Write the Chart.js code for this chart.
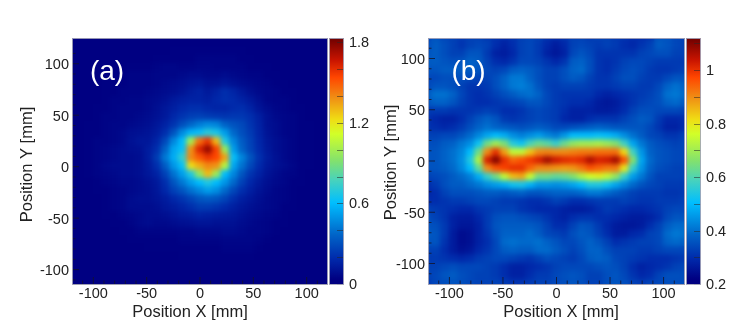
<!DOCTYPE html>
<html lang="en">
<head>
<meta charset="UTF-8">
<title>Position maps</title>
<script src="https://cdn.jsdelivr.net/npm/chart.js"></script>
<style>
  html, body { margin: 0; background: #fff; }
  canvas { position: absolute; }
</style>
</head>
<body>
<canvas id="mapA" style="left:0;top:0"></canvas>
<canvas id="barA" style="left:329px;top:0"></canvas>
<canvas id="mapB" style="left:350px;top:0"></canvas>
<canvas id="barB" style="left:686px;top:0"></canvas>
<script>
const tickLabels = [-100, -50, 0, 50, 100];
const minorTicks = [-110, -90, -80, -70, -60, -40, -30, -20, -10, 10, 20, 30, 40, 60, 70, 80, 90, 110];
const colTicksA = [0, 0.6, 1.2, 1.8];
const colMinorA = [0.2, 0.4, 0.8, 1, 1.4, 1.6];
const colTicksB = [0.2, 0.4, 0.6, 0.8, 1];
const colMinorB = [0.3, 0.5, 0.7, 0.9, 1.1];
const stops = [[0, '#000080'], [0.02, '#000082'], [0.1, '#0028aa'], [0.2, '#0064c8'], [0.33, '#00beff'], [0.42, '#46d2be'],
  [0.5, '#82e16e'], [0.61, '#d2ff28'], [0.67, '#f0dc14'], [0.76, '#f08c14'], [0.84, '#ff4600'], [0.91, '#c81400'], [1, '#6e0000']];

const xCells = [-120,-112,-104,-96,-88,-80,-72,-64,-56,-48,-40,-32,-24,-16,-8,0,8,16,24,32,40,48,56,64,72,80,88,96,104,112,120];
const yCellsA = [128,120,112,104,96,88,80,72,64,56,48,40,32,24,16,8,0,-8,-16,-24,-32,-40,-48,-56,-64,-72,-80,-88,-96,-104,-112];
const yCellsB = [120,112,104,96,88,80,72,64,56,48,40,32,24,16,8,0,-8,-16,-24,-32,-40,-48,-56,-64,-72,-80,-88,-96,-104,-112,-120];

const valuesA = [
[.03,.03,.03,.03,.03,.03,.03,.03,.03,.03,.03,.03,.03,.03,.03,.03,.03,.03,.03,.03,.03,.03,.03,.03,.03,.03,.03,.03,.03,.03,.03],
[.03,.03,.03,.03,.03,.03,.03,.03,.03,.03,.03,.03,.03,.03,.03,.03,.03,.03,.03,.03,.03,.03,.03,.03,.03,.03,.03,.03,.03,.03,.03],
[.03,.03,.03,.03,.03,.03,.03,.03,.03,.03,.03,.03,.04,.04,.04,.04,.04,.04,.04,.04,.04,.03,.03,.03,.03,.03,.03,.03,.03,.03,.03],
[.03,.03,.03,.03,.03,.03,.03,.03,.03,.03,.04,.04,.04,.04,.04,.05,.05,.05,.05,.05,.04,.04,.03,.03,.03,.03,.03,.03,.03,.03,.03],
[.03,.03,.03,.03,.03,.03,.03,.04,.04,.04,.05,.06,.06,.05,.05,.06,.06,.05,.05,.05,.05,.04,.04,.04,.03,.03,.03,.03,.03,.03,.03],
[.03,.03,.03,.03,.03,.03,.04,.05,.05,.05,.06,.06,.06,.07,.08,.08,.07,.07,.08,.07,.06,.05,.05,.04,.04,.03,.03,.03,.03,.03,.03],
[.03,.03,.03,.03,.04,.04,.04,.05,.05,.05,.06,.07,.08,.09,.11,.12,.10,.10,.12,.10,.08,.07,.06,.05,.04,.04,.03,.03,.03,.03,.03],
[.03,.03,.03,.03,.04,.04,.05,.05,.05,.06,.07,.08,.09,.11,.14,.16,.13,.16,.20,.17,.13,.09,.07,.06,.05,.04,.04,.03,.03,.03,.03],
[.03,.03,.03,.03,.04,.05,.05,.06,.06,.07,.08,.10,.13,.15,.16,.16,.15,.18,.20,.19,.16,.13,.09,.06,.05,.05,.04,.03,.03,.03,.03],
[.03,.03,.03,.04,.04,.05,.06,.06,.06,.07,.09,.12,.15,.18,.20,.20,.18,.17,.17,.19,.20,.16,.11,.08,.06,.05,.04,.04,.03,.03,.03],
[.03,.03,.03,.04,.05,.05,.06,.06,.07,.08,.10,.13,.18,.22,.25,.26,.24,.23,.22,.23,.23,.20,.15,.10,.07,.06,.05,.04,.03,.03,.03],
[.03,.03,.04,.04,.05,.06,.06,.07,.08,.09,.12,.16,.22,.30,.37,.43,.47,.45,.36,.31,.28,.22,.16,.10,.08,.06,.05,.04,.04,.03,.03],
[.03,.03,.04,.04,.05,.06,.07,.09,.10,.11,.14,.20,.32,.47,.58,.62,.70,.66,.52,.38,.30,.24,.17,.11,.08,.06,.05,.04,.04,.03,.03],
[.03,.03,.04,.05,.05,.06,.07,.10,.12,.12,.17,.28,.46,.60,1.00,1.45,1.58,1.30,.68,.46,.34,.26,.18,.12,.09,.07,.05,.04,.04,.03,.03],
[.03,.03,.04,.05,.06,.07,.08,.09,.10,.14,.20,.36,.54,.62,1.38,1.62,1.76,1.55,.98,.52,.36,.27,.19,.13,.09,.07,.05,.04,.04,.03,.03],
[.03,.03,.04,.05,.06,.07,.08,.08,.09,.14,.24,.42,.56,.72,1.40,1.50,1.58,1.54,1.35,.62,.45,.32,.21,.14,.10,.07,.05,.04,.04,.03,.03],
[.03,.03,.04,.05,.07,.08,.08,.08,.09,.13,.20,.34,.50,.62,1.22,1.32,1.40,1.38,1.05,.54,.40,.28,.19,.13,.10,.08,.06,.04,.04,.03,.03],
[.03,.03,.04,.05,.06,.07,.08,.08,.09,.12,.16,.26,.40,.52,.68,.95,1.30,.98,.60,.46,.32,.22,.16,.11,.08,.06,.05,.04,.03,.03,.03],
[.03,.03,.03,.04,.05,.06,.07,.07,.08,.10,.13,.20,.32,.42,.52,.60,.68,.60,.50,.38,.26,.18,.13,.09,.07,.06,.04,.04,.03,.03,.03],
[.03,.03,.03,.04,.04,.05,.06,.07,.08,.09,.12,.18,.26,.32,.40,.46,.52,.48,.38,.28,.20,.15,.11,.08,.06,.05,.04,.03,.03,.03,.03],
[.03,.03,.03,.03,.04,.05,.06,.08,.09,.09,.11,.14,.18,.22,.27,.32,.34,.32,.27,.20,.15,.12,.09,.07,.06,.05,.04,.03,.03,.03,.03],
[.03,.03,.03,.03,.04,.05,.06,.08,.08,.08,.09,.12,.14,.17,.20,.24,.24,.22,.19,.15,.12,.10,.08,.07,.06,.04,.04,.03,.03,.03,.03],
[.03,.03,.03,.03,.04,.04,.05,.06,.07,.08,.08,.09,.11,.13,.14,.16,.15,.14,.13,.12,.10,.08,.07,.06,.05,.04,.03,.03,.03,.03,.03],
[.03,.03,.03,.03,.03,.04,.04,.05,.07,.08,.07,.07,.08,.09,.10,.11,.11,.10,.10,.10,.08,.07,.06,.05,.04,.04,.03,.03,.03,.03,.03],
[.03,.03,.03,.03,.03,.03,.04,.04,.05,.05,.05,.05,.05,.06,.06,.07,.07,.07,.08,.08,.07,.06,.06,.05,.04,.03,.03,.03,.03,.03,.03],
[.03,.03,.03,.03,.03,.03,.03,.04,.04,.04,.04,.04,.04,.05,.05,.05,.05,.05,.06,.06,.06,.06,.05,.04,.03,.03,.03,.03,.03,.03,.03],
[.03,.03,.03,.03,.03,.03,.03,.03,.03,.04,.04,.04,.04,.04,.04,.04,.04,.04,.05,.05,.05,.05,.04,.03,.03,.03,.03,.03,.03,.03,.03],
[.03,.03,.03,.03,.03,.03,.03,.03,.03,.03,.03,.03,.03,.04,.04,.04,.04,.04,.04,.04,.04,.04,.03,.03,.03,.03,.03,.03,.03,.03,.03],
[.03,.03,.03,.03,.03,.03,.03,.03,.03,.03,.03,.03,.03,.03,.03,.03,.03,.03,.03,.03,.03,.03,.03,.03,.03,.03,.03,.03,.03,.03,.03],
[.03,.03,.03,.03,.03,.03,.03,.03,.03,.03,.03,.03,.03,.03,.03,.03,.03,.03,.03,.03,.03,.03,.03,.03,.03,.03,.03,.03,.03,.03,.03],
[.03,.03,.03,.03,.03,.03,.03,.03,.03,.03,.03,.03,.03,.03,.03,.03,.03,.03,.03,.03,.03,.03,.03,.03,.03,.03,.03,.03,.03,.03,.03]
];

const valuesB = [
[.34,.36,.34,.33,.32,.33,.33,.32,.31,.30,.31,.33,.34,.33,.31,.30,.31,.33,.33,.32,.33,.33,.32,.31,.30,.30,.31,.36,.36,.34,.33],
[.35,.37,.35,.33,.31,.33,.34,.33,.30,.28,.30,.33,.34,.32,.29,.27,.29,.33,.34,.33,.32,.33,.32,.30,.29,.31,.33,.37,.36,.34,.33],
[.36,.37,.35,.33,.33,.36,.36,.32,.28,.27,.29,.33,.34,.32,.28,.26,.28,.34,.36,.34,.31,.31,.31,.31,.31,.33,.34,.35,.35,.33,.33],
[.37,.37,.36,.35,.36,.38,.37,.33,.30,.29,.31,.34,.34,.33,.31,.29,.31,.37,.38,.35,.31,.30,.31,.33,.34,.34,.33,.32,.32,.32,.32],
[.36,.36,.37,.37,.37,.37,.36,.34,.33,.34,.37,.38,.37,.35,.33,.33,.35,.38,.39,.35,.31,.30,.32,.34,.35,.34,.32,.31,.31,.32,.33],
[.34,.34,.35,.35,.35,.34,.33,.33,.35,.38,.41,.41,.38,.35,.33,.33,.35,.37,.36,.33,.31,.31,.33,.35,.35,.33,.32,.32,.34,.36,.36],
[.34,.36,.36,.35,.33,.31,.31,.32,.35,.38,.41,.42,.40,.36,.33,.32,.33,.33,.33,.32,.31,.31,.32,.33,.33,.32,.32,.34,.38,.40,.38],
[.37,.40,.40,.38,.34,.31,.30,.31,.33,.35,.37,.39,.40,.38,.34,.32,.31,.31,.31,.31,.29,.28,.29,.30,.31,.32,.33,.35,.40,.41,.39],
[.36,.38,.38,.36,.33,.31,.30,.30,.31,.32,.33,.34,.36,.36,.34,.32,.31,.30,.30,.29,.27,.26,.27,.29,.31,.33,.34,.35,.38,.39,.37],
[.32,.32,.32,.31,.31,.31,.32,.33,.32,.30,.30,.31,.33,.34,.33,.32,.30,.28,.28,.28,.27,.27,.28,.30,.33,.35,.35,.34,.34,.34,.33],
[.31,.29,.28,.28,.30,.33,.36,.38,.36,.32,.31,.32,.33,.34,.33,.32,.29,.28,.28,.30,.31,.31,.31,.33,.35,.37,.36,.32,.29,.29,.30],
[.31,.30,.29,.30,.32,.35,.38,.40,.38,.37,.36,.35,.36,.37,.36,.34,.34,.35,.36,.37,.38,.37,.36,.36,.36,.36,.34,.31,.28,.28,.30],
[.33,.33,.34,.34,.36,.39,.43,.47,.50,.48,.44,.42,.44,.46,.43,.41,.45,.50,.50,.50,.51,.50,.48,.44,.40,.37,.34,.33,.31,.31,.33],
[.35,.35,.37,.38,.41,.44,.52,.64,.70,.65,.55,.52,.59,.63,.61,.57,.63,.68,.70,.70,.71,.69,.66,.58,.47,.41,.37,.35,.34,.33,.34],
[.36,.36,.38,.40,.43,.50,.64,.90,1.00,.88,.74,.74,.84,.90,.91,.90,.90,.91,.92,.92,.93,.93,.93,.82,.58,.45,.38,.36,.35,.34,.34],
[.36,.36,.38,.40,.44,.54,.72,1.02,1.10,1.00,.94,.96,.99,1.02,1.07,1.03,1.01,1.00,1.01,1.06,1.02,1.03,1.07,.96,.66,.47,.39,.36,.35,.34,.34],
[.36,.36,.37,.39,.43,.50,.62,.90,.96,.98,1.00,1.00,.94,.90,.90,.89,.88,.89,.92,.96,.94,.92,.92,.80,.57,.45,.38,.35,.34,.33,.33],
[.33,.34,.35,.37,.39,.42,.48,.57,.64,.74,.85,.87,.75,.64,.64,.62,.63,.66,.72,.76,.78,.74,.68,.57,.46,.41,.36,.33,.33,.33,.33],
[.30,.32,.35,.37,.37,.39,.41,.44,.46,.48,.52,.53,.49,.45,.45,.44,.45,.47,.50,.54,.54,.52,.47,.43,.39,.36,.34,.33,.32,.32,.32],
[.29,.30,.33,.35,.35,.35,.36,.37,.37,.36,.37,.38,.36,.36,.37,.38,.38,.38,.39,.41,.41,.39,.37,.35,.33,.32,.32,.32,.31,.31,.32],
[.30,.30,.31,.32,.32,.33,.34,.34,.33,.32,.32,.31,.30,.30,.31,.33,.32,.30,.30,.31,.32,.32,.32,.33,.32,.31,.31,.32,.32,.32,.33],
[.33,.32,.31,.30,.29,.29,.31,.32,.33,.33,.33,.31,.30,.29,.29,.29,.28,.27,.27,.28,.30,.32,.31,.30,.29,.29,.30,.31,.33,.34,.34],
[.35,.33,.31,.28,.27,.27,.29,.32,.35,.36,.36,.35,.34,.33,.31,.29,.28,.30,.31,.31,.30,.30,.29,.28,.27,.27,.28,.30,.34,.36,.36],
[.36,.35,.32,.28,.26,.26,.28,.32,.36,.37,.37,.37,.37,.36,.33,.30,.30,.33,.36,.35,.32,.29,.27,.26,.26,.27,.30,.33,.37,.39,.39],
[.37,.36,.32,.27,.24,.25,.28,.31,.35,.38,.38,.38,.39,.37,.34,.33,.32,.35,.37,.36,.33,.30,.27,.27,.29,.30,.33,.34,.39,.41,.40],
[.36,.36,.31,.27,.24,.25,.28,.30,.34,.39,.40,.39,.39,.40,.38,.36,.34,.34,.36,.38,.36,.33,.30,.31,.32,.33,.33,.34,.38,.39,.38],
[.33,.33,.30,.27,.25,.26,.29,.31,.34,.37,.38,.37,.37,.39,.39,.37,.35,.33,.35,.38,.38,.35,.33,.33,.33,.32,.32,.33,.34,.34,.34],
[.32,.32,.31,.30,.29,.30,.32,.33,.34,.34,.33,.32,.31,.33,.35,.34,.33,.32,.34,.37,.38,.37,.34,.33,.32,.31,.30,.30,.30,.31,.32],
[.33,.33,.34,.35,.34,.34,.34,.33,.32,.30,.28,.28,.29,.30,.31,.33,.34,.34,.34,.34,.35,.36,.35,.33,.30,.28,.29,.30,.31,.33,.34],
[.33,.34,.36,.37,.35,.34,.33,.33,.32,.30,.28,.28,.30,.32,.32,.34,.35,.36,.35,.33,.33,.35,.36,.34,.31,.29,.30,.33,.35,.35,.35],
[.32,.34,.35,.36,.35,.34,.33,.33,.33,.32,.31,.31,.32,.33,.33,.34,.35,.36,.35,.33,.33,.35,.36,.35,.33,.32,.33,.34,.35,.35,.35]
];

const textColor = '#222';
const font = 'Arial, "Liberation Sans", sans-serif';

function hexRgb(h) {
    return [1, 3, 5].map(i => parseInt(h.substr(i, 2), 16));
}

function colorFor(t) {
    t = Math.min(1, Math.max(0, t));
    let i = 1;
    while (i < stops.length - 1 && stops[i][0] < t) i++;
    const a = stops[i - 1], b = stops[i];
    const f = (t - a[0]) / (b[0] - a[0]);
    const ca = hexRgb(a[1]), cb = hexRgb(b[1]);
    return `rgb(${ca.map((c, k) => Math.round(c + (cb[k] - c) * f)).join(',')})`;
}

// the source is a smooth map, so soften the cells after the library has drawn them
const softenCells = {
    id: 'softenCells',
    afterDatasetsDraw(chart) {
        const { ctx, canvas, chartArea: a } = chart;
        ctx.save();
        ctx.beginPath();
        ctx.rect(a.left, a.top, a.width, a.height);
        ctx.clip();
        ctx.filter = 'blur(2.4px)';
        ctx.drawImage(canvas, a.left, a.top, a.width, a.height, a.left, a.top, a.width, a.height);
        ctx.restore();
    }
};

// ROOT style ticks pointing inwards, panel tag and the off-centre axis titles
const innerTicks = {
    id: 'innerTicks',
    afterDraw(chart, args, opts) {
        const { ctx, chartArea: a, scales } = chart;
        ctx.save();
        ctx.strokeStyle = opts.color;
        ctx.lineWidth = 1;
        ctx.beginPath();
        if (scales.x.type === 'linear') {
            const mark = (list, len) => list.forEach(v => {
                const px = scales.x.getPixelForValue(v), py = scales.y.getPixelForValue(v);
                ctx.moveTo(px, a.bottom); ctx.lineTo(px, a.bottom - len);
                ctx.moveTo(a.left, py); ctx.lineTo(a.left + len, py);
            });
            mark(tickLabels, 7);
            mark(minorTicks, 3.5);
        } else {
            opts.major.concat(opts.minor).forEach(v => {
                const py = Math.round(scales.y.getPixelForValue(v)) + 0.5;
                ctx.moveTo(a.right, py); ctx.lineTo(a.right - 7, py);
            });
        }
        ctx.stroke();
        ctx.strokeStyle = 'rgba(165,165,185,0.9)';
        ctx.strokeRect(a.left + 0.5, a.top + 0.5, a.width - 1, a.height);
        ctx.textAlign = 'center';
        ctx.textBaseline = 'middle';
        if (opts.tag) {
            ctx.fillStyle = '#fff';
            ctx.font = '28px ' + font;
            ctx.fillText(opts.tag, opts.tagX, 72);
            ctx.fillStyle = textColor;
            ctx.font = '16.5px ' + font;
            ctx.fillText('Position X [mm]', opts.xTitle[0], opts.xTitle[1]);
            ctx.translate(opts.yTitle[0], opts.yTitle[1]);
            ctx.rotate(-Math.PI / 2);
            ctx.fillText('Position Y [mm]', 0, 0);
        }
        ctx.restore();
    }
};

function drawMap(id, width, yCells, values, vmin, vmax, yRange, tag, tagX, leftPad, xTitle, yTitle) {
    const points = [], colors = [];
    yCells.forEach((y, r) => xCells.forEach((x, c) => {
        points.push({ x, y });
        colors.push(colorFor((values[r][c] - vmin) / (vmax - vmin)));
    }));
    const cvs = document.getElementById(id);
    cvs.width = width; cvs.height = 333;
    new Chart(cvs, {
        type: 'scatter',
        data: { datasets: [{
            data: points,
            backgroundColor: colors,
            borderWidth: 0,
            pointStyle: 'rect',
            pointRadius: 7.2
        }] },
        options: {
            responsive: false,
            animation: false,
            events: [],
            layout: { autoPadding: false, padding: { top: 38, left: 0, right: 0, bottom: 0 } },
            plugins: {
                legend: { display: false },
                tooltip: { enabled: false },
                innerTicks: { color: 'rgba(20,20,40,0.8)', tag, tagX, xTitle, yTitle }
            },
            scales: {
                x: {
                    type: 'linear', min: -120, max: 120,
                    afterBuildTicks: s => { s.ticks = tickLabels.map(value => ({ value })); },
                    afterFit: s => { s.height = 49; s.paddingLeft = 0; s.paddingRight = 0; },
                    grid: { display: false, drawTicks: false },
                    border: { color: '#666', width: 1 },
                    ticks: { color: textColor, font: { family: font, size: 14.5 }, padding: 1, maxRotation: 0, autoSkip: false }
                },
                y: {
                    type: 'linear', min: yRange[0], max: yRange[1],
                    afterBuildTicks: s => { s.ticks = tickLabels.map(value => ({ value })); },
                    afterFit: s => { s.width = leftPad; s.paddingTop = 0; s.paddingBottom = 0; },
                    grid: { display: false, drawTicks: false },
                    border: { color: '#8a93a8', width: 1 },
                    ticks: { color: textColor, font: { family: font, size: 14.5 }, padding: 3, labelOffset: 1.5, autoSkip: false }
                }
            }
        },
        plugins: [softenCells, innerTicks]
    });
}

function drawBar(id, vmin, vmax, major, minor) {
    const cvs = document.getElementById(id);
    cvs.width = 61; cvs.height = 333;
    new Chart(cvs, {
        type: 'bar',
        data: { labels: ['scale'], datasets: [{
            data: [[vmin, vmax]],
            barPercentage: 1,
            categoryPercentage: 1,
            backgroundColor: ctx => {
                const a = ctx.chart.chartArea;
                if (!a) return stops[0][1];
                const g = ctx.chart.ctx.createLinearGradient(0, a.bottom, 0, a.top);
                stops.forEach(s => g.addColorStop(s[0], s[1]));
                return g;
            }
        }] },
        options: {
            responsive: false,
            animation: false,
            events: [],
            layout: { padding: { top: 38, left: 0, right: 0, bottom: 49 } },
            plugins: {
                legend: { display: false },
                tooltip: { enabled: false },
                innerTicks: { color: 'rgba(40,40,40,0.55)', major, minor }
            },
            scales: {
                x: { display: false },
                y: {
                    type: 'linear', position: 'right', min: vmin, max: vmax,
                    afterBuildTicks: s => { s.ticks = major.map(value => ({ value })); },
                    afterFit: s => { s.width = 46; s.paddingTop = 0; s.paddingBottom = 0; },
                    grid: { display: false, drawTicks: false },
                    border: { display: false },
                    ticks: { color: textColor, font: { family: font, size: 14.5 }, padding: 5, labelOffset: 1, autoSkip: false, callback: v => String(v) }
                }
            }
        },
        plugins: [innerTicks]
    });
}

drawMap('mapA', 328, yCellsA, valuesA, 0, 1.832, [-114, 125], '(a)', 107, 72, [190, 312.5], [27, 164.5]);
drawBar('barA', 0, 1.832, colTicksA, colMinorA);
drawMap('mapB', 335, yCellsB, valuesB, 0.2, 1.12, [-120, 120], '(b)', 118.5, 78, [211, 312.5], [41, 162.5]);
drawBar('barB', 0.2, 1.12, colTicksB, colMinorB);
</script>
</body>
</html>
